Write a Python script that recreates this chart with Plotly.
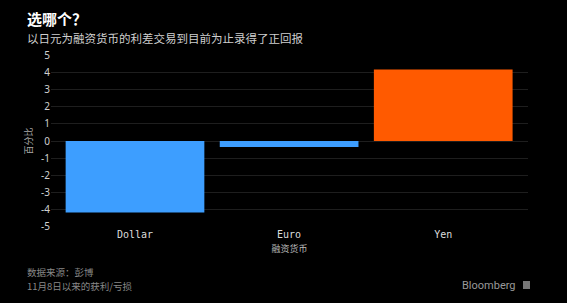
import plotly.graph_objects as go

categories = ["Dollar", "Euro", "Yen"]
values = [-4.2, -0.35, 4.2]
colors = ["#3d9eff", "#3d9eff", "#ff5a00"]
y_ticks = [-5, -4, -3, -2, -1, 0, 1, 2, 3, 4, 5]
y_tick_labels = [str(v) for v in y_ticks]

W, H = 567, 303
L, R, T, B = 51, 39, 55, 76

fig = go.Figure(go.Bar(x=categories, y=values, marker_color=colors,
                       marker_line_width=0, width=0.9))

fig.update_layout(
    width=W, height=H,
    paper_bgcolor="black", plot_bgcolor="black",
    margin=dict(l=L, r=R, t=T, b=B),
    showlegend=False,
    font=dict(family="Noto Sans CJK SC", color="#cccccc"),
)
fig.update_xaxes(
    range=[-0.545, 2.55], showgrid=False, zeroline=False, showline=False,
    tickfont=dict(family="DejaVu Sans Mono", size=10, color="#dddddd"),
    ticks="",
    title=dict(text="融资货币", font=dict(size=9, color="#bbbbbb"), standoff=6),
)
fig.update_yaxes(
    range=[-5.05, 5.05], tickvals=y_ticks, ticktext=y_tick_labels,
    showgrid=True, gridcolor="#1e1e1e",
    gridwidth=1, zeroline=False, showline=False, ticks="",
    tickfont=dict(family="Noto Sans", size=10, color="#d0d0d0"),
    title=dict(text="百分比", font=dict(size=9, color="#aaaaaa"), standoff=6),
)

pw, ph = W - L - R, H - T - B


def px2paper(x, y):
    return (x - L) / pw, 1 - (y - T) / ph


annots = [
    dict(text="<b>选哪个？</b>", x=25, y=18, size=15, color="#ffffff"),
    dict(text="以日元为融资货币的利差交易到目前为止录得了正回报", x=25, y=38, size=11.5, color="#cfcfcf"),
    dict(text="数据来源：彭博", x=25, y=271.5, size=9.5, color="#888888"),
    dict(text="11月8日以来的获利/亏损", x=25, y=285.5, size=9.5, color="#888888"),
]
for a in annots:
    px, py = px2paper(a["x"], a["y"])
    fig.add_annotation(text=a["text"], x=px, y=py, xref="paper", yref="paper",
                       showarrow=False, xanchor="left", yanchor="middle",
                       font=dict(size=a["size"], color=a["color"]))

bx, by = px2paper(518, 285)
fig.add_annotation(text="Bloomberg", x=bx, y=by, xref="paper", yref="paper",
                   showarrow=False, xanchor="right", yanchor="middle",
                   font=dict(family="Roboto", size=11, color="#999999"))
ix0, iy0 = px2paper(523, 281)
ix1, iy1 = px2paper(530, 289)
fig.add_shape(type="rect", x0=ix0, x1=ix1, y0=iy1, y1=iy0, xref="paper", yref="paper",
              fillcolor="#777777", line_width=0)

fig.write_html("out.html")
